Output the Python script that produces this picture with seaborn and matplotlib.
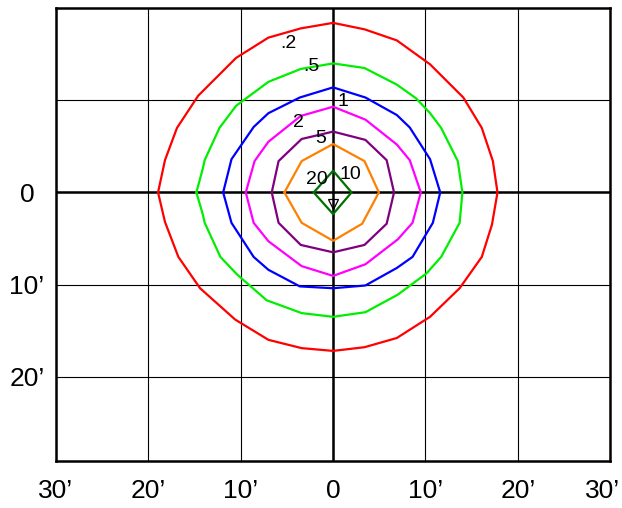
import matplotlib
matplotlib.use("Agg")
import matplotlib.pyplot as plt
import matplotlib.transforms as mtransforms
import pandas as pd
import seaborn as sns

# contour levels, outermost first
LEVELS = [".2", ".5", "1", "2", "5", "10", "20"]
LEVEL_COLORS = ["#ff0000", "#00ee00", "#0000ff", "#ff00ff", "#800080", "#ff8000", "#007000"]

# contour vertices (arc-minutes), closed polygons
RED_X = [-18.95, -18.2, -16.9, -14.6, -10.5, -7.0, -3.5, 0.0, 3.4, 6.9, 10.5, 14.1, 16.1, 17.3, 17.8,
         17.2, 16.1, 13.7, 10.5, 6.9, 3.4, 0.0, -3.4, -7.0, -10.6, -14.4, -16.75, -18.2, -18.95]
RED_Y = [0.0, 3.5, 7.0, 10.5, 14.6, 16.8, 17.8, 18.4, 17.7, 16.5, 13.9, 10.3, 7.0, 3.4, 0.0,
         -3.5, -7.0, -10.4, -13.5, -15.8, -16.8, -17.2, -16.9, -16.0, -13.8, -10.4, -7.0, -3.2, 0.0]

GREEN_X = [-14.8, -14.1, -13.9, -12.3, -10.5, -7.0, -3.5, 0.0, 3.4, 6.9, 9.0, 10.5, 11.7, 13.5, 14.0,
           13.7, 11.7, 10.1, 7.0, 3.5, 0.0, -3.4, -7.2, -10.4, -12.2, -13.9, -14.1, -14.8]
GREEN_Y = [0.0, 2.6, 3.5, 7.0, 9.4, 12.0, 13.4, 14.0, 13.5, 11.7, 10.2, 8.6, 7.0, 3.4, 0.0,
           -3.3, -7.0, -8.8, -11.1, -13.0, -13.5, -13.1, -11.7, -8.9, -7.0, -3.3, -2.4, 0.0]

BLUE_X = [-11.9, -11.0, -8.6, -7.0, -3.6, 0.0, 3.5, 6.9, 8.3, 10.5, 11.6,
          10.8, 8.6, 6.9, 3.5, 0.0, -3.6, -7.0, -8.6, -11.0, -11.9]
BLUE_Y = [0.0, 3.6, 7.1, 8.6, 10.3, 11.4, 10.3, 8.4, 7.05, 3.6, 0.0,
          -3.3, -7.0, -8.2, -10.1, -10.4, -10.2, -8.4, -7.0, -3.3, 0.0]

MAGENTA_X = [-9.45, -8.5, -7.0, -3.5, 0.0, 3.5, 6.9, 8.3, 9.5, 8.6, 7.0, 3.5, 0.0, -3.4, -7.0, -8.6, -9.45]
MAGENTA_Y = [0.0, 3.4, 5.5, 8.3, 9.3, 7.9, 5.2, 3.5, 0.0, -3.3, -5.1, -7.8, -9.06, -8.0, -5.3, -3.3, 0.0]

PURPLE_X = [-6.64, -5.9, -3.4, 0.0, 3.5, 5.8, 6.6, 5.8, 3.4, 0.0, -3.5, -5.9, -6.64]
PURPLE_Y = [0.0, 3.4, 5.8, 6.6, 5.7, 3.5, 0.0, -3.4, -5.7, -6.5, -5.7, -3.3, 0.0]

ORANGE_X = [-5.27, -3.4, 0.0, 3.4, 4.96, 3.15, 0.0, -3.4, -5.27]
ORANGE_Y = [0.0, 3.4, 5.25, 3.4, 0.0, -3.4, -5.25, -3.3, 0.0]

DKGREEN_X = [-2.1, 0.0, 2.0, 0.0, -2.1]
DKGREEN_Y = [0.0, 2.35, 0.0, -2.35, 0.0]

CENTER_X = [0.0]
CENTER_Y = [-1.3]

# where each level's label sits
LABEL_X = [-4.85, -2.35, 1.1, -3.8, -1.38, 1.9, -1.8]
LABEL_Y = [16.2, 13.65, 9.9, 7.6, 5.9, 1.9, 1.4]

X_TICKS = [-30, -20, -10, 0, 10, 20, 30]
X_TICK_LABELS = ["30\u2019", "20\u2019", "10\u2019", "0", "10\u2019", "20\u2019", "30\u2019"]
Y_TICKS = [10, 0, -10, -20]
Y_TICK_LABELS = ["", "0", "10\u2019", "20\u2019"]


def build_frame():
    polys = [(RED_X, RED_Y), (GREEN_X, GREEN_Y), (BLUE_X, BLUE_Y), (MAGENTA_X, MAGENTA_Y),
             (PURPLE_X, PURPLE_Y), (ORANGE_X, ORANGE_Y), (DKGREEN_X, DKGREEN_Y)]
    parts = []
    for level, (xs, ys) in zip(LEVELS, polys):
        parts.append(pd.DataFrame({"x": xs, "y": ys, "level": level}))
    return pd.concat(parts, ignore_index=True)


def main():
    sns.set_theme(style="white")
    plt.rcParams["font.family"] = ["Liberation Sans", "DejaVu Sans"]

    fig = plt.figure(figsize=(6.22, 5.08), dpi=100)
    ax = fig.add_axes([0.090, 0.0925, 0.891, 0.8915])

    df = build_frame()
    sns.lineplot(data=df, x="x", y="y", hue="level", hue_order=LEVELS,
                 palette=dict(zip(LEVELS, LEVEL_COLORS)), sort=False, estimator=None,
                 linewidth=1.6, legend=False, ax=ax, zorder=3)

    ax.plot(CENTER_X, CENTER_Y, marker="v", ms=7, mfc="none", mec="black", mew=0.9,
            ls="none", zorder=4)

    for txt, lx, ly in zip(LEVELS, LABEL_X, LABEL_Y):
        ax.text(lx, ly, txt, fontsize=14, ha="center", va="center", color="black", zorder=5)

    ax.set_xlim(-30, 30)
    ax.set_ylim(-29.15, 20)
    ax.set_xticks(X_TICKS)
    ax.set_xticklabels(X_TICK_LABELS)
    ax.set_yticks(Y_TICKS)
    ax.set_yticklabels(Y_TICK_LABELS)
    ax.set_xlabel("")
    ax.set_ylabel("")
    ax.tick_params(axis="both", length=0, labelsize=19, colors="black")
    ax.tick_params(axis="x", pad=13)
    ax.tick_params(axis="y", pad=21)
    for lab in ax.get_yticklabels():
        lab.set_horizontalalignment("center")

    # the last x label is nudged left so it stays inside the canvas
    last = ax.get_xticklabels()[-1]
    last.set_transform(last.get_transform() +
                       mtransforms.ScaledTranslation(-8 / 100, 0, fig.dpi_scale_trans))

    ax.grid(True, color="black", linewidth=0.8, zorder=1)
    ax.set_axisbelow(True)
    ax.axhline(0, color="black", linewidth=1.8, zorder=2)
    ax.axvline(0, color="black", linewidth=1.8, zorder=2)

    for sp in ax.spines.values():
        sp.set_visible(True)
        sp.set_color("black")
        sp.set_linewidth(1.8)

    fig.savefig("out.png", dpi=100)
    plt.close(fig)


if __name__ == "__main__":
    main()
